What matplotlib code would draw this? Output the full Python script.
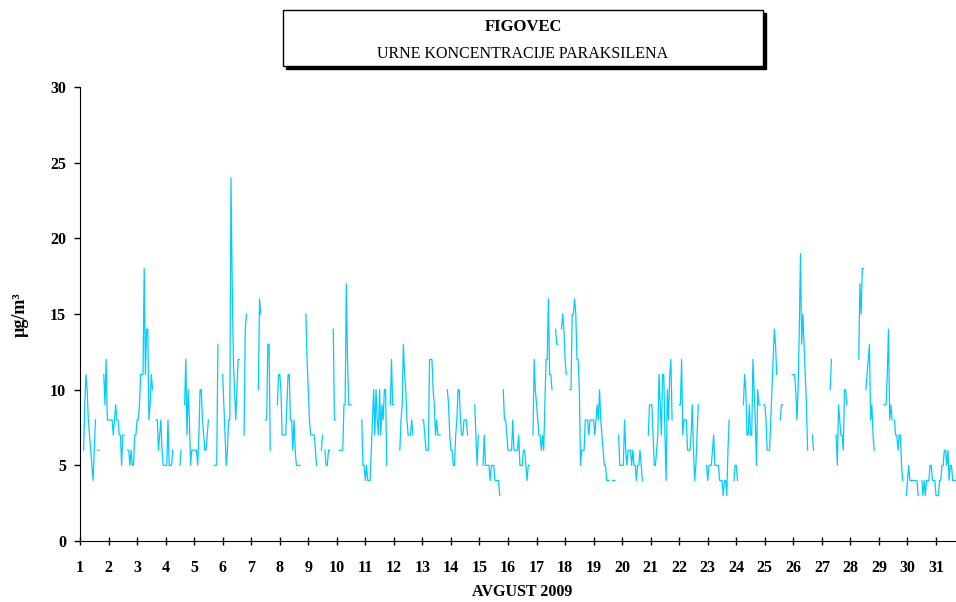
import numpy as np
import matplotlib.pyplot as plt
from matplotlib.patches import Rectangle

N = None

# hourly paraxylene concentrations (ug/m3), Figovec, August 2009
# one list per week, 24 values per day, None = missing hour
week1 = [
    N, N, N, 6, 9, 11, 10, 8, 7, 6, 5, 4, 6, 8, N, 6, 6, N, N, N, 11, 9, 12, 8,
    8, 8, 8, 8, 7, 8, 9, 8, 8, 7, 7, 5, 7, 7, N, N, 6, 6, 5, 6, 5, 5, 7, 7,
    8, 8, 9, 11, 11, 11, 18, 11, 14, 14, 8, 9, 11, 10, N, N, 8, 8, 6, 7, 8, 6, 5, 5,
    5, 5, 8, 5, 5, 5, 6, N, N, N, N, N, 5, 6, N, N, 9, 12, 7, 10, 8, 5, 6, 6,
    6, 6, 6, 5, 7, 10, 10, 8, 7, 6, 6, 7, 8, N, N, N, N, 5, 5, 5, 13, N, N, N,
    11, 9, 7, 5, 6, 8, 8, 24, 17, 12, 10, 8, 10, 12, 12, N, N, N, 7, 14, 15, N, N, N,
    N, N, N, N, N, N, 10, 16, 15, N, N, N, 8, 8, 13, 13, 6, N, N, N, N, N, 9, 11,
]
week2 = [
    11, 10, 7, 7, 7, 7, 9, 11, 11, 8, 8, 6, 8, 6, 5, 5, 5, 5, N, N, N, N, 15, 12,
    10, 8, 7, 7, 7, 7, 6, 5, N, N, N, 6, 7, N, 6, 5, 5, 6, 6, N, N, 14, 8, 8,
    N, N, 6, 6, 6, 6, 9, 9, 17, 12, 9, 9, 9, N, N, N, N, N, N, N, N, 8, 5, 5,
    4, 5, 4, 4, 4, 6, 8, 10, 7, 10, 8, 7, 10, 7, 9, 8, 10, 10, 5, N, N, 9, 12, 9,
    9, N, N, N, N, 6, 8, 9, 13, 11, 10, 8, 7, 7, 7, 8, 7, N, N, N, N, N, N, N,
    8, 8, 7, 6, 6, 6, 12, 12, 12, 10, 9, 7, 8, 7, 7, 7, N, N, N, N, N, 10, 9, 7,
    6, 6, 5, 5, 7, 8, 10, 10, 8, 7, 7, 8, 8, 8, 7, N, N, N, N, N, 9, 7, 5, 7,
]
week3 = [
    N, N, N, 5, 7, 5, 5, 5, 5, 4, 5, 5, 5, 4, 4, 4, 4, 3, N, N, 10, 8, 8, 7,
    6, 6, 6, 6, 8, 6, 6, 6, 6, 7, 5, 5, 5, 6, 6, 5, 4, 5, 5, N, N, 7, 12, 10,
    9, 8, 7, 7, 6, 7, 6, 9, 12, 12, 16, 11, 11, 10, N, N, 14, 13, 13, N, N, 14, 15, 14,
    12, 11, N, N, 10, 10, 15, 15, 16, 15, 12, 12, 10, 5, 6, 6, 6, 8, 8, 8, 7, 8, 8, 8,
    8, 7, 8, 9, 8, 10, 8, 7, 6, 5, 5, 4, 4, 4, N, N, 4, 4, 4, N, N, 7, 5, 5,
    5, 5, 8, 6, 5, 6, 6, 6, 5, 6, 5, 5, 4, 5, 5, 6, 5, 4, N, N, N, N, 7, 9,
    9, 9, 7, 5, 5, 6, 7, 11, 9, 7, 11, 11, 7, 4, 10, 8, 11, 12, 8, N, N, N, N, N,
]
week4 = [
    9, 9, 12, 7, 8, 8, 8, 6, 6, 6, 7, 9, 6, 4, 5, 7, 9, N, N, N, N, N, N, 5,
    4, 5, 5, 5, 6, 7, 5, 5, 5, 5, 4, 4, 4, 3, 4, 4, 3, 6, 8, N, N, N, 4, 5,
    5, 4, N, N, N, N, 9, 11, 10, 7, 7, 9, 7, 7, 12, 10, 8, 5, 10, 9, 9, N, N, 9,
    9, 8, 6, 6, 6, 8, 10, 12, 14, 13, 11, N, N, 8, 9, 9, N, N, N, N, N, N, N, 11,
    11, 11, 10, 8, 10, 14, 19, 13, 15, 13, 11, 9, 6, N, N, N, 7, 6, N, N, N, N, N, N,
    N, N, N, N, N, N, N, 10, 12, N, N, N, 7, 5, 9, 8, 7, 7, 6, 10, 10, 9, N, N,
    N, N, N, N, N, N, N, 12, 17, 15, 18, 18, N, 10, 11, 12, 13, 8, 9, 7, 6, N, N, N,
]
week5 = [
    N, N, N, N, 9, 9, 9, 11, 14, 8, 9, 8, N, 8, 7, 7, 6, 7, 7, 5, 4, N, N, 3,
    4, 5, 4, 4, 4, 4, 4, 4, 4, 3, N, N, 4, 3, 4, 3, 4, 4, 4, 5, 5, 4, 4, 4,
    3, 3, 3, 4, 4, 5, 5, 6, 6, 5, 6, 4, 5, 5, 4, 4, 4, 4, N, N, N, N, N, N,
]
days = list(range(1, 32))

values = np.array(week1 + week2 + week3 + week4 + week5, dtype=float)
hours = 1 + np.arange(len(values)) / 24.0

plt.rcParams['font.family'] = ['Liberation Serif', 'DejaVu Serif']

fig = plt.figure(figsize=(9.56, 6.02), dpi=100)
ax = fig.add_axes([80 / 956, 61 / 602, 876 / 956, 454 / 602])

ax.plot(hours, values, color='#00CCFF', lw=0.9)

ax.set_xlim(1, 31.7)
ax.set_ylim(0, 30)
ax.set_xticks(days)
ax.set_yticks(range(0, 31, 5))
ax.set_xticklabels([str(d) for d in days], fontsize=11.5, fontweight='bold')
ax.set_yticklabels([str(v) for v in range(0, 31, 5)], fontsize=11.5, fontweight='bold')
ax.tick_params(axis='x', direction='inout', length=6, width=1, pad=11)
ax.tick_params(axis='y', direction='out', length=4, width=1, pad=6)
ax.spines['top'].set_visible(False)
ax.spines['right'].set_visible(False)

fig.text(522 / 956, 1 - 592 / 602, 'AVGUST 2009', ha='center', va='center',
         fontsize=11.5, fontweight='bold')
fig.text(20 / 956, 1 - 315 / 602, 'µg/m³', ha='center', va='center',
         rotation=90, fontsize=13, fontweight='bold')

# title box with shadow
bx, by, bw, bh = 283 / 956, 1 - 66 / 602, 480 / 956, 56 / 602
fig.patches.append(Rectangle((bx + 3 / 956, by - 3 / 602), bw, bh, transform=fig.transFigure,
                             facecolor='black', edgecolor='black', zorder=1))
fig.patches.append(Rectangle((bx, by), bw, bh, transform=fig.transFigure,
                             facecolor='white', edgecolor='black', lw=1, zorder=2))
fig.text(523 / 956, 1 - 27 / 602, 'FIGOVEC', ha='center', va='center',
         fontsize=12, fontweight='bold', zorder=3)
fig.text(523 / 956, 1 - 54 / 602, 'URNE KONCENTRACIJE PARAKSILENA', ha='center', va='center',
         fontsize=11.5, zorder=3)

fig.savefig('out.png', dpi=100)
